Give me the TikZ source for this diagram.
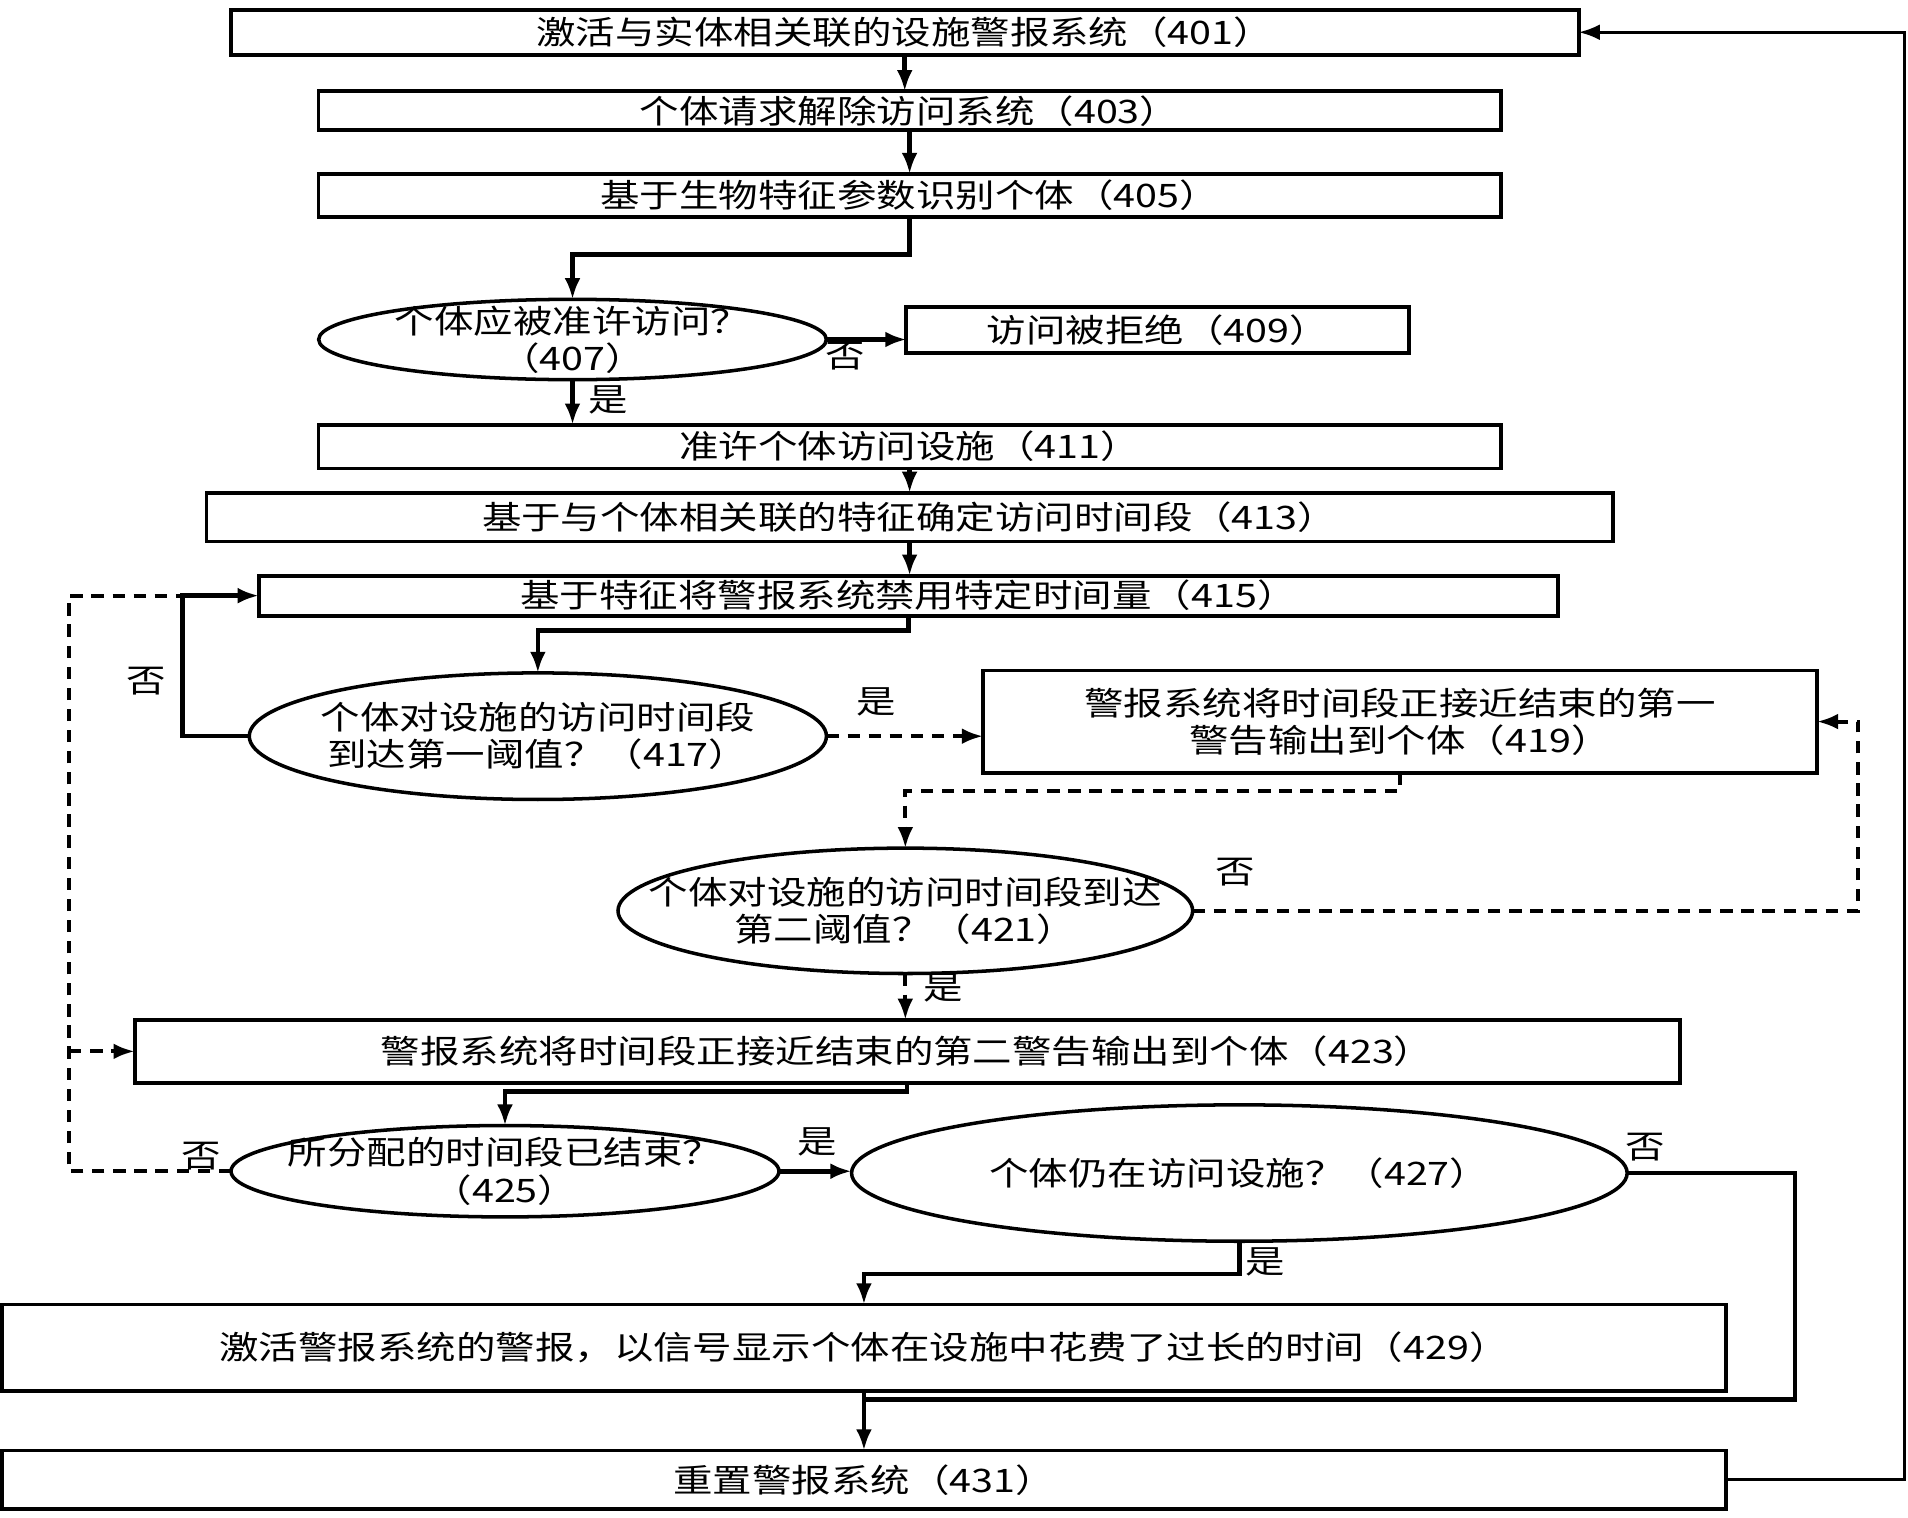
\documentclass[tikz,border=0pt]{standalone}
\usepackage{fontspec}
\usepackage{tikz}
\usetikzlibrary{shapes.geometric,arrows.meta,calc}
\newfontfamily\cjk[FakeStretch=1.22]{Noto Sans CJK SC}
\tikzset{
  txt/.style={font=\cjk\fontsize{9.2}{10.6}\selectfont},
  proc/.style={draw, rectangle, line width=1.1pt, inner sep=0pt, outer sep=0pt, txt, align=center},
  cond/.style={draw, ellipse, line width=1pt, inner sep=0pt, outer sep=0pt},
  lbl/.style={txt, inner sep=0pt},
  wire/.style={line width=1.3pt},
  flow/.style={wire, -{Latex[length=6pt,width=4.5pt]}},
  dwire/.style={line width=1.1pt, dash pattern=on 3.5pt off 2.5pt},
  dflow/.style={dwire, -{Latex[length=6pt,width=4.5pt]}},
}

\begin{document}
\begin{tikzpicture}[x=0.012168cm, y=-0.012168cm]
      \useasboundingbox (0,0) rectangle (1568,1247);
      % Define nodes
      \node[proc, minimum width=13.47cm, minimum height=0.45cm] (n401) at (743.5,26.5) {激活与实体相关联的设施警报系统（401）};
      \node[proc, minimum width=11.815cm, minimum height=0.39cm] (n403) at (747.5,91) {个体请求解除访问系统（403）};
      \node[proc, minimum width=11.815cm, minimum height=0.426cm] (n405) at (747.5,160.5) {基于生物特征参数识别个体（405）};
      \node[cond, minimum width=5.074cm, minimum height=0.803cm,
            label={[lbl, align=center]center:个体应被准许访问？\\（407）}] (n407) at (470.5,279) {};
      \node[proc, minimum width=5.025cm, minimum height=0.462cm] (n409) at (951.5,271) {访问被拒绝（409）};
      \node[proc, minimum width=11.815cm, minimum height=0.438cm] (n411) at (747.5,367) {准许个体访问设施（411）};
      \node[proc, minimum width=14.054cm, minimum height=0.487cm] (n413) at (747.5,425) {基于与个体相关联的特征确定访问时间段（413）};
      \node[proc, minimum width=12.983cm, minimum height=0.40cm] (n415) at (746.5,489.5) {基于特征将警报系统禁用特定时间量（415）};
      \node[cond, minimum width=5.768cm, minimum height=1.265cm,
            label={[lbl, align=center]center:个体对设施的访问时间段\\到达第一阈值？（417）}] (n417) at (442,605) {};
      \node[proc, minimum width=8.335cm, minimum height=1.022cm] (n419) at (1150.5,593) {警报系统将时间段正接近结束的第一\\警告输出到个体（419）};
      \node[cond, minimum width=5.743cm, minimum height=1.253cm,
            label={[lbl, align=center]center:个体对设施的访问时间段到达\\第二阈值？（421）}] (n421) at (744,748.5) {};
      \node[proc, minimum width=15.441cm, minimum height=0.633cm] (n423) at (745.5,864) {警报系统将时间段正接近结束的第二警告输出到个体（423）};
      \node[cond, minimum width=5.476cm, minimum height=0.913cm,
            label={[lbl, align=center]center:所分配的时间段已结束？\\（425）}] (n425) at (415,962.5) {};
      \node[cond, minimum width=7.751cm, minimum height=1.363cm,
            label={[lbl]center:个体仍在访问设施？（427）}] (n427) at (1018.5,964) {};
      \node[proc, minimum width=17.23cm, minimum height=0.864cm] (n429) at (710,1107.5) {激活警报系统的警报，以信号显示个体在设施中花费了过长的时间（429）};
      \node[proc, minimum width=17.23cm, minimum height=0.584cm] (n431) at (710,1216) {重置警报系统（431）};

      % Branch labels
      \node[lbl] (no407) at (695,293) {否};
      \node[lbl] (yes407) at (500,329) {是};
      \node[lbl] (no417) at (120,560) {否};
      \node[lbl] (yes417) at (720,577) {是};
      \node[lbl] (no421) at (1015,717) {否};
      \node[lbl] (yes421) at (775,812) {是};
      \node[lbl] (no425) at (165,950) {否};
      \node[lbl] (yes425) at (672,938) {是};
      \node[lbl] (no427) at (1352,943) {否};
      \node[lbl] (yes427) at (1040,1037) {是};

      % Connect nodes
      \draw[flow] (n401.south) -- (n401.south |- n403.north);
      \draw[flow] (n403.south) -- (n403.south |- n405.north);
      \draw[flow] (n405.south) -- ++(0,31) -| (n407.north);
      \draw[flow] (n407.east) -- (n407.east -| n409.west);
      \draw[flow] (n407.south) -- (n407.south |- n411.north);
      \draw[flow] (n411.south) -- (n411.south |- n413.north);
      \draw[flow] (n413.south) -- (n413.south |- n415.north);
      \draw[flow] (n415.south) -- ++(0,12) -| (n417.north);
      \draw[flow] (n417.west) -- ++(-55,0) coordinate (lp) |- (n415.west);
      \draw[dflow] (n417.east) -- (n417.east -| n419.west);
      \draw[dflow] (n419.south) -- ++(0,15) -| (n421.north);
      \draw[dflow] (n421.east) -- ++(547,0) |- (n419.east);
      \draw[dflow] (n421.south) -- (n421.south |- n423.north);
      \draw[flow] (n423.south) -- ++(0,7) -| (n425.north);
      \draw[dwire] (n425.west) -- ++(-133,0) coordinate (dl) |- (lp |- n415.west);
      \draw[dflow] (dl |- n423.west) -- (n423.west);
      \draw[flow] (n425.east) -- (n425.east -| n427.west);
      \draw[flow] (n427.south) -- ++(0,27) -| (n429.north);
      \coordinate (jn) at ($(n429.south)+(0,7)$);
      \draw[wire] (n427.east) -- ++(138,0) |- (jn);
      \draw[flow] (n429.south) -- (n431.north);
      \draw[flow, line width=0.9pt] (n431.east) -- ++(147,0) |- (n401.east);
\end{tikzpicture}
\end{document}
